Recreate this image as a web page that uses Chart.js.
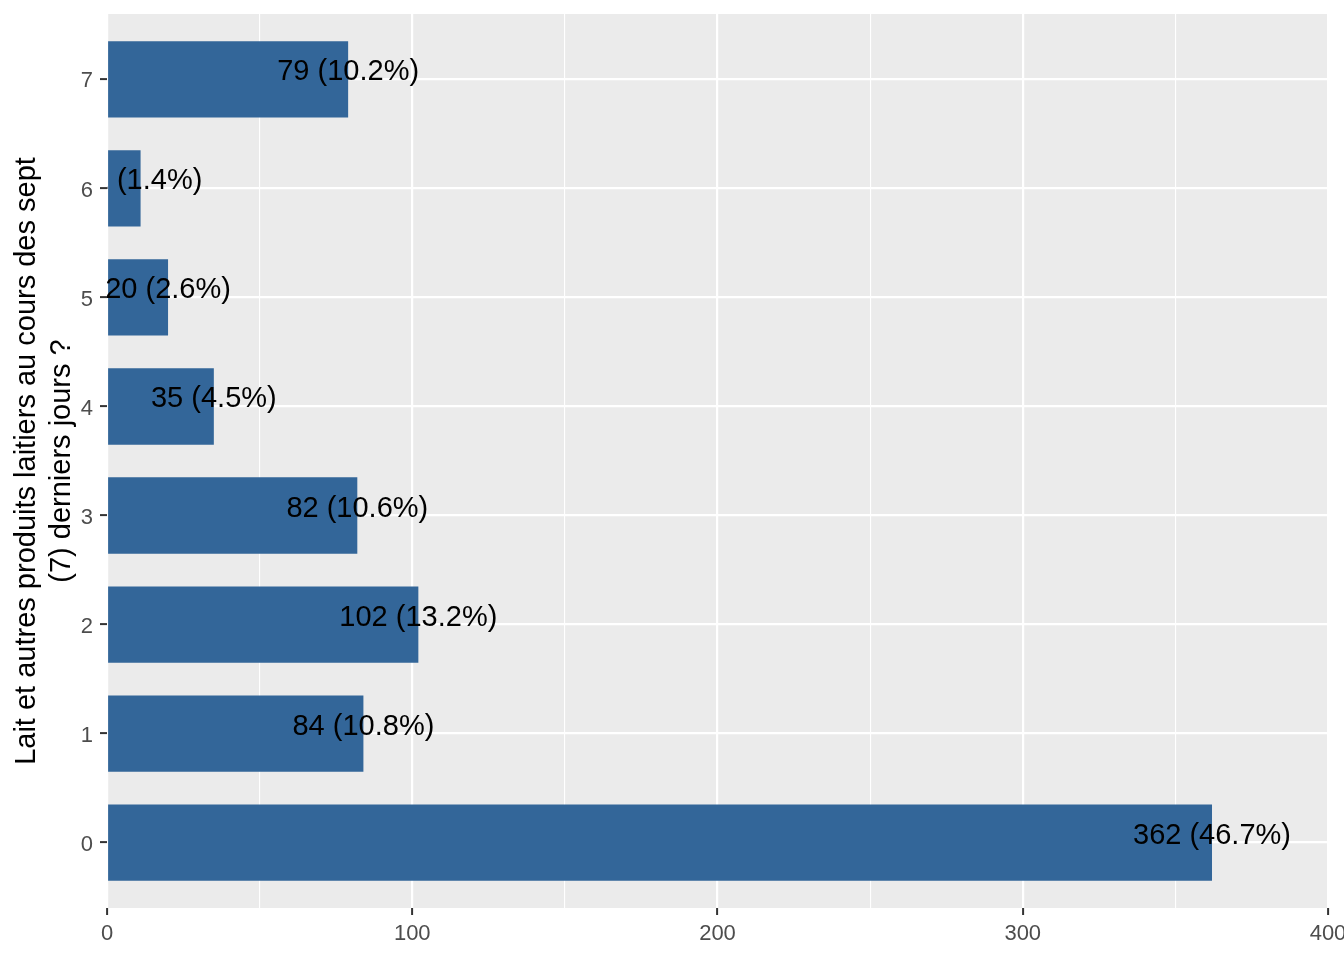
<!DOCTYPE html>
<html><head><meta charset="utf-8">
<script src="https://cdn.jsdelivr.net/npm/chart.js@4.4.0/dist/chart.umd.min.js"></script>
<style>html,body{margin:0;padding:0;background:#fff;overflow:hidden;}</style>
</head><body>
<canvas id="c" width="1344" height="960" style="display:block;width:1344px;height:960px;"></canvas>
<script>
const categories = ['0', '1', '2', '3', '4', '5', '6', '7'];
const counts = [362, 84, 102, 82, 35, 20, 11, 79];
const percents = ['46.7%', '10.8%', '13.2%', '10.6%', '4.5%', '2.6%', '1.4%', '10.2%'];
const xTicks = [0, 50, 100, 150, 200, 250, 300, 350, 400];
const yTitle = ['Lait et autres produits laitiers au cours des sept', '(7) derniers jours ?'];

const FONT = "'Liberation Sans', Arial, sans-serif";

const panelBg = {
  id: 'panelBg',
  beforeDraw(chart) {
    const {ctx, chartArea: a} = chart;
    ctx.save();
    ctx.fillStyle = '#EBEBEB';
    ctx.fillRect(a.left, a.top, a.right - a.left, a.bottom - a.top);
    ctx.restore();
  }
};

const barLabels = {
  id: 'barLabels',
  afterDatasetsDraw(chart) {
    const {ctx, chartArea: a} = chart;
    const meta = chart.getDatasetMeta(0);
    ctx.save();
    ctx.beginPath();
    ctx.rect(a.left, a.top, a.right - a.left, a.bottom - a.top);
    ctx.clip();
    ctx.font = '29px ' + FONT;
    ctx.fillStyle = '#000000';
    ctx.textAlign = 'center';
    ctx.textBaseline = 'alphabetic';
    meta.data.forEach((bar, i) => {
      ctx.fillText(counts[i] + ' (' + percents[i] + ')', bar.x, bar.y + 1);
    });
    ctx.restore();
  }
};

new Chart(document.getElementById('c'), {
  type: 'bar',
  data: {
    datasets: [{
      data: counts.map((v, i) => ({x: v, y: i})),
      backgroundColor: '#336699',
      borderWidth: 0,
      barPercentage: 0.7,
      categoryPercentage: 1.0
    }]
  },
  options: {
    indexAxis: 'y',
    responsive: false,
    animation: false,
    devicePixelRatio: 1,
    layout: {padding: {top: 14, right: 16, left: 0, bottom: 0}},
    plugins: {legend: {display: false}, tooltip: {enabled: false}},
    scales: {
      x: {
        type: 'linear', min: 0, max: 400,
        offset: false,
        afterBuildTicks: s => { s.ticks = xTicks.map(v => ({value: v})); },
        afterFit: s => { s.height = 52; s.paddingLeft = 0; s.paddingRight = 0; },
        border: {display: false},
        grid: {
          offset: false,
          color: '#FFFFFF',
          lineWidth: c => (c.tick && c.tick.value % 100 === 0) ? 2.2 : 1.1,
          tickColor: c => (c.tick && c.tick.value % 100 === 0) ? '#333333' : 'rgba(0,0,0,0)',
          tickLength: 7,
          tickWidth: 2
        },
        ticks: {
          autoSkip: false, maxRotation: 0,
          padding: 6,
          color: '#4D4D4D',
          font: {family: FONT, size: 22},
          callback: v => (v % 100 === 0 ? String(v) : '')
        }
      },
      y: {
        type: 'linear', min: -0.6, max: 7.6,
        offset: false,
        afterBuildTicks: s => { s.ticks = categories.map((c, i) => ({value: i})); },
        afterFit: s => { s.width = 107; s.paddingTop = 0; s.paddingBottom = 0; },
        border: {display: false},
        grid: {
          offset: false,
          color: '#FFFFFF',
          lineWidth: 2.2,
          tickColor: '#333333',
          tickLength: 7,
          tickWidth: 2
        },
        ticks: {
          autoSkip: false,
          padding: 7,
          labelOffset: 2,
          color: '#4D4D4D',
          font: {family: FONT, size: 22},
          callback: v => categories[v]
        },
        title: {
          display: true,
          text: yTitle,
          color: '#000000',
          font: {family: FONT, size: 29, lineHeight: 1.2},
          padding: {top: 10, bottom: 0}
        }
      }
    }
  },
  plugins: [panelBg, barLabels]
});
</script>
</body></html>
